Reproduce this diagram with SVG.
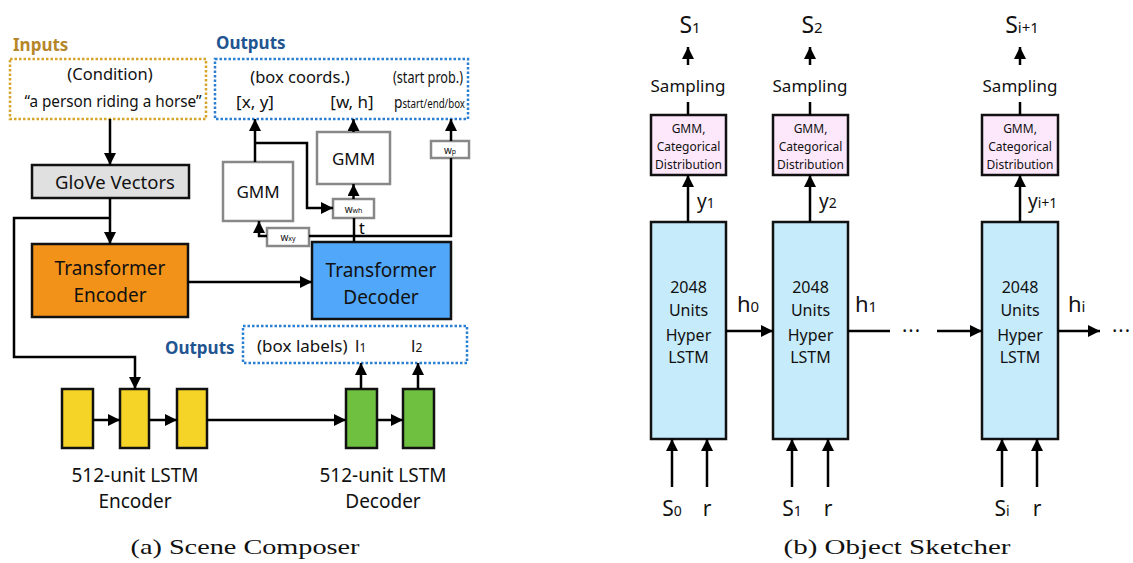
<svg xmlns="http://www.w3.org/2000/svg" width="1133" height="563" viewBox="0 0 1133 563">
<defs>
<marker id="ah" viewBox="0 0 10 10" refX="10" refY="5" markerUnits="userSpaceOnUse" markerWidth="12" markerHeight="12" orient="auto">
<path d="M0,0 L10,5 L0,10 z" fill="#000"/>
</marker>
<style>
text{font-family:"Noto Sans","Open Sans","DejaVu Sans",sans-serif;fill:#111;}
.c{text-anchor:middle;}
.cap{font-family:"Liberation Serif","DejaVu Serif",serif;font-size:22px;}
.lbl{font-weight:bold;font-size:17px;}
.blk{fill:none;stroke:#000;stroke-width:2.5;}
.arr{fill:none;stroke:#000;stroke-width:2.5;marker-end:url(#ah);}
.gray{fill:#fff;stroke:#888;stroke-width:2.5;}
.box{stroke:#111;stroke-width:2.5;}
.dot{fill:none;stroke-width:2.5;stroke-dasharray:2.5 2;}
</style>
</defs>

<!-- ===== (a) Scene Composer ===== -->
<g id="inputs">
<text x="13" y="51" class="lbl" style="fill:#b5862a">Inputs</text>
<rect x="10" y="59" width="196" height="60" class="dot" stroke="#d4a52a"/>
<text x="110" y="80" class="c" font-size="16.5">(Condition)</text>
<text x="113" y="107" class="c" font-size="16.5" textLength="177" lengthAdjust="spacingAndGlyphs">“a person riding a horse”</text>
</g>

<g id="outputs-top">
<text x="216" y="49" class="lbl" style="fill:#1f5591">Outputs</text>
<rect x="215" y="59" width="253" height="60" class="dot" stroke="#2a7fd4"/>
<text x="300" y="83" class="c" font-size="16.5">(box coords.)</text>
<text x="393" y="83" font-size="16.5" textLength="70" lengthAdjust="spacingAndGlyphs">(start prob.)</text>
<text x="255" y="108" class="c" font-size="17">[x, y]</text>
<text x="352" y="108" class="c" font-size="17">[w, h]</text>
<text x="394" y="108" font-size="17" textLength="71" lengthAdjust="spacingAndGlyphs">p<tspan font-size="12">start/end/box</tspan></text>
</g>

<g id="glove">
<rect x="32" y="165" width="157" height="33" class="box" fill="#e0e0e0"/>
<text x="115" y="189" class="c" font-size="18.5">GloVe Vectors</text>
</g>

<g id="transformer-encoder">
<rect x="32" y="244" width="156" height="73" class="box" fill="#f39219"/>
<text x="110" y="275" class="c" font-size="19">Transformer</text>
<text x="110" y="302" class="c" font-size="19">Encoder</text>
</g>

<g id="transformer-decoder">
<rect x="312" y="242" width="139" height="77" class="box" fill="#51a7f9"/>
<text x="381" y="277" class="c" font-size="19">Transformer</text>
<text x="381" y="304" class="c" font-size="19">Decoder</text>
</g>

<g id="gmm-xy">
<rect x="223" y="162" width="70" height="59" class="gray"/>
<text x="258" y="198" class="c" font-size="17">GMM</text>
</g>

<g id="gmm-wh">
<rect x="317" y="132" width="73" height="52" class="gray"/>
<text x="353.5" y="165" class="c" font-size="17">GMM</text>
</g>

<g id="w-wh">
<rect x="333" y="199" width="41" height="19" class="gray" stroke-width="2"/>
<text x="353.5" y="213" class="c" font-size="10">w<tspan font-size="7">wh</tspan></text>
</g>

<g id="w-xy">
<rect x="267" y="228" width="42" height="18" class="gray" stroke-width="2"/>
<text x="288" y="241" class="c" font-size="10">w<tspan font-size="7">xy</tspan></text>
</g>

<g id="w-p">
<rect x="431" y="141" width="38" height="17" class="gray" stroke-width="2"/>
<text x="450" y="154" class="c" font-size="10">w<tspan font-size="7">p</tspan></text>
</g>

<text x="359" y="234" font-size="16" style="fill:#000">t</text>

<g id="outputs-labels">
<text x="165" y="354" class="lbl" style="fill:#1f5591">Outputs</text>
<rect x="243" y="326" width="224" height="37" class="dot" stroke="#2a7fd4"/>
<text x="257" y="352" font-size="17">(box labels)</text>
<text x="355" y="352" font-size="17">l<tspan font-size="12">1</tspan></text>
<text x="411" y="352" font-size="17">l<tspan font-size="12">2</tspan></text>
</g>

<g id="lstm-encoder">
<rect x="62" y="389" width="31" height="59" class="box" fill="#f5d327"/>
<rect x="120" y="389" width="29" height="59" class="box" fill="#f5d327"/>
<rect x="177" y="389" width="30" height="59" class="box" fill="#f5d327"/>
<text x="135" y="482" class="c" font-size="19">512-unit LSTM</text>
<text x="135" y="508" class="c" font-size="19">Encoder</text>
</g>

<g id="lstm-decoder">
<rect x="346" y="389" width="31" height="59" class="box" fill="#6fbf40"/>
<rect x="403" y="389" width="31" height="59" class="box" fill="#6fbf40"/>
<text x="383" y="482" class="c" font-size="19">512-unit LSTM</text>
<text x="383" y="508" class="c" font-size="19">Decoder</text>
</g>

<text x="245" y="554" class="cap c" textLength="229" lengthAdjust="spacingAndGlyphs">(a) Scene Composer</text>

<!-- ===== (b) Object Sketcher ===== -->
<g id="step-1">
<text x="690" y="33" class="c" font-size="23">S<tspan font-size="15">1</tspan></text>
<text x="688" y="92" class="c" font-size="17">Sampling</text>
<rect x="651" y="115" width="75" height="60" class="box" fill="#fde8fb"/>
<text x="688.5" y="133" class="c" font-size="12">GMM,</text>
<text x="688.5" y="151" class="c" font-size="12">Categorical</text>
<text x="688.5" y="169" class="c" font-size="12">Distribution</text>
<rect x="651" y="222" width="75" height="217" class="box" fill="#c6ebfb"/>
<text x="688.5" y="293" class="c" font-size="16">2048</text>
<text x="688.5" y="316" class="c" font-size="16">Units</text>
<text x="688.5" y="341" class="c" font-size="16">Hyper</text>
<text x="688.5" y="363" class="c" font-size="16">LSTM</text>
<text x="697" y="208" font-size="19">y<tspan font-size="14">1</tspan></text>
<text x="672" y="516" class="c" font-size="21">S<tspan font-size="14">0</tspan></text>
<text x="707" y="516" class="c" font-size="21">r</text>
</g>

<g id="step-2">
<text x="812" y="33" class="c" font-size="23">S<tspan font-size="15">2</tspan></text>
<text x="810" y="92" class="c" font-size="17">Sampling</text>
<rect x="773" y="115" width="75" height="60" class="box" fill="#fde8fb"/>
<text x="810.5" y="133" class="c" font-size="12">GMM,</text>
<text x="810.5" y="151" class="c" font-size="12">Categorical</text>
<text x="810.5" y="169" class="c" font-size="12">Distribution</text>
<rect x="773" y="222" width="75" height="217" class="box" fill="#c6ebfb"/>
<text x="810.5" y="293" class="c" font-size="16">2048</text>
<text x="810.5" y="316" class="c" font-size="16">Units</text>
<text x="810.5" y="341" class="c" font-size="16">Hyper</text>
<text x="810.5" y="363" class="c" font-size="16">LSTM</text>
<text x="819" y="208" font-size="19">y<tspan font-size="14">2</tspan></text>
<text x="792" y="516" class="c" font-size="21">S<tspan font-size="14">1</tspan></text>
<text x="828" y="516" class="c" font-size="21">r</text>
</g>

<g id="step-i">
<text x="1022" y="33" class="c" font-size="23">S<tspan font-size="15">i+1</tspan></text>
<text x="1020" y="92" class="c" font-size="17">Sampling</text>
<rect x="982" y="115" width="76" height="60" class="box" fill="#fde8fb"/>
<text x="1020" y="133" class="c" font-size="12">GMM,</text>
<text x="1020" y="151" class="c" font-size="12">Categorical</text>
<text x="1020" y="169" class="c" font-size="12">Distribution</text>
<rect x="982" y="222" width="76" height="217" class="box" fill="#c6ebfb"/>
<text x="1020" y="293" class="c" font-size="16">2048</text>
<text x="1020" y="316" class="c" font-size="16">Units</text>
<text x="1020" y="341" class="c" font-size="16">Hyper</text>
<text x="1020" y="363" class="c" font-size="16">LSTM</text>
<text x="1028" y="208" font-size="19">y<tspan font-size="14">i+1</tspan></text>
<text x="1002" y="516" class="c" font-size="21">S<tspan font-size="14">i</tspan></text>
<text x="1037" y="516" class="c" font-size="21">r</text>
</g>

<g id="hidden-labels">
<text x="737" y="312" font-size="22">h<tspan font-size="15">0</tspan></text>
<text x="855" y="312" font-size="22">h<tspan font-size="15">1</tspan></text>
<text x="1068" y="312" font-size="22">h<tspan font-size="15">i</tspan></text>
<text x="902" y="338" font-size="20" letter-spacing="1">···</text>
<text x="1112" y="338" font-size="20" letter-spacing="1">···</text>
</g>

<text x="897" y="554" class="cap c" textLength="227" lengthAdjust="spacingAndGlyphs">(b) Object Sketcher</text>

<!-- ===== connectors ===== -->
<g id="connectors">
<path class="arr" d="M110 119 V165"/>
<path class="arr" d="M110 198 V244"/>
<path class="arr" d="M110 218 H14 V357 H135 V389"/>
<path class="arr" d="M188 282 H312"/>
<path class="arr" d="M255 162 V119"/>
<path class="arr" d="M255 143 H307 V208 H333"/>
<path class="arr" d="M353.5 199 V184"/>
<path class="arr" d="M353.5 132 V119"/>
<path class="blk" d="M354 242 V218"/>
<path class="blk" d="M309 236 H451 V158"/>
<path class="arr" d="M451 141 V119"/>
<path class="arr" d="M267 236 H259 V221"/>
<path class="arr" d="M93 420 H120"/>
<path class="arr" d="M149 420 H177"/>
<path class="arr" d="M207 420 H346"/>
<path class="arr" d="M377 420 H403"/>
<path class="arr" d="M361 389 V363"/>
<path class="arr" d="M418 389 V363"/>

<path class="arr" d="M688 65 V47"/>
<path class="blk" d="M688 102 V115"/>
<path class="arr" d="M688 222 V175"/>
<path class="arr" d="M672 487 V439"/>
<path class="arr" d="M707 487 V439"/>
<path class="arr" d="M810 65 V47"/>
<path class="blk" d="M810 102 V115"/>
<path class="arr" d="M810 222 V175"/>
<path class="arr" d="M792 487 V439"/>
<path class="arr" d="M828 487 V439"/>
<path class="arr" d="M1020 65 V47"/>
<path class="blk" d="M1020 102 V115"/>
<path class="arr" d="M1020 222 V175"/>
<path class="arr" d="M1002 487 V439"/>
<path class="arr" d="M1037 487 V439"/>

<path class="arr" d="M726 331 H773"/>
<path class="blk" d="M848 331 H890"/>
<path class="arr" d="M937 331 H982"/>
<path class="arr" d="M1058 331 H1100"/>
</g>
</svg>
